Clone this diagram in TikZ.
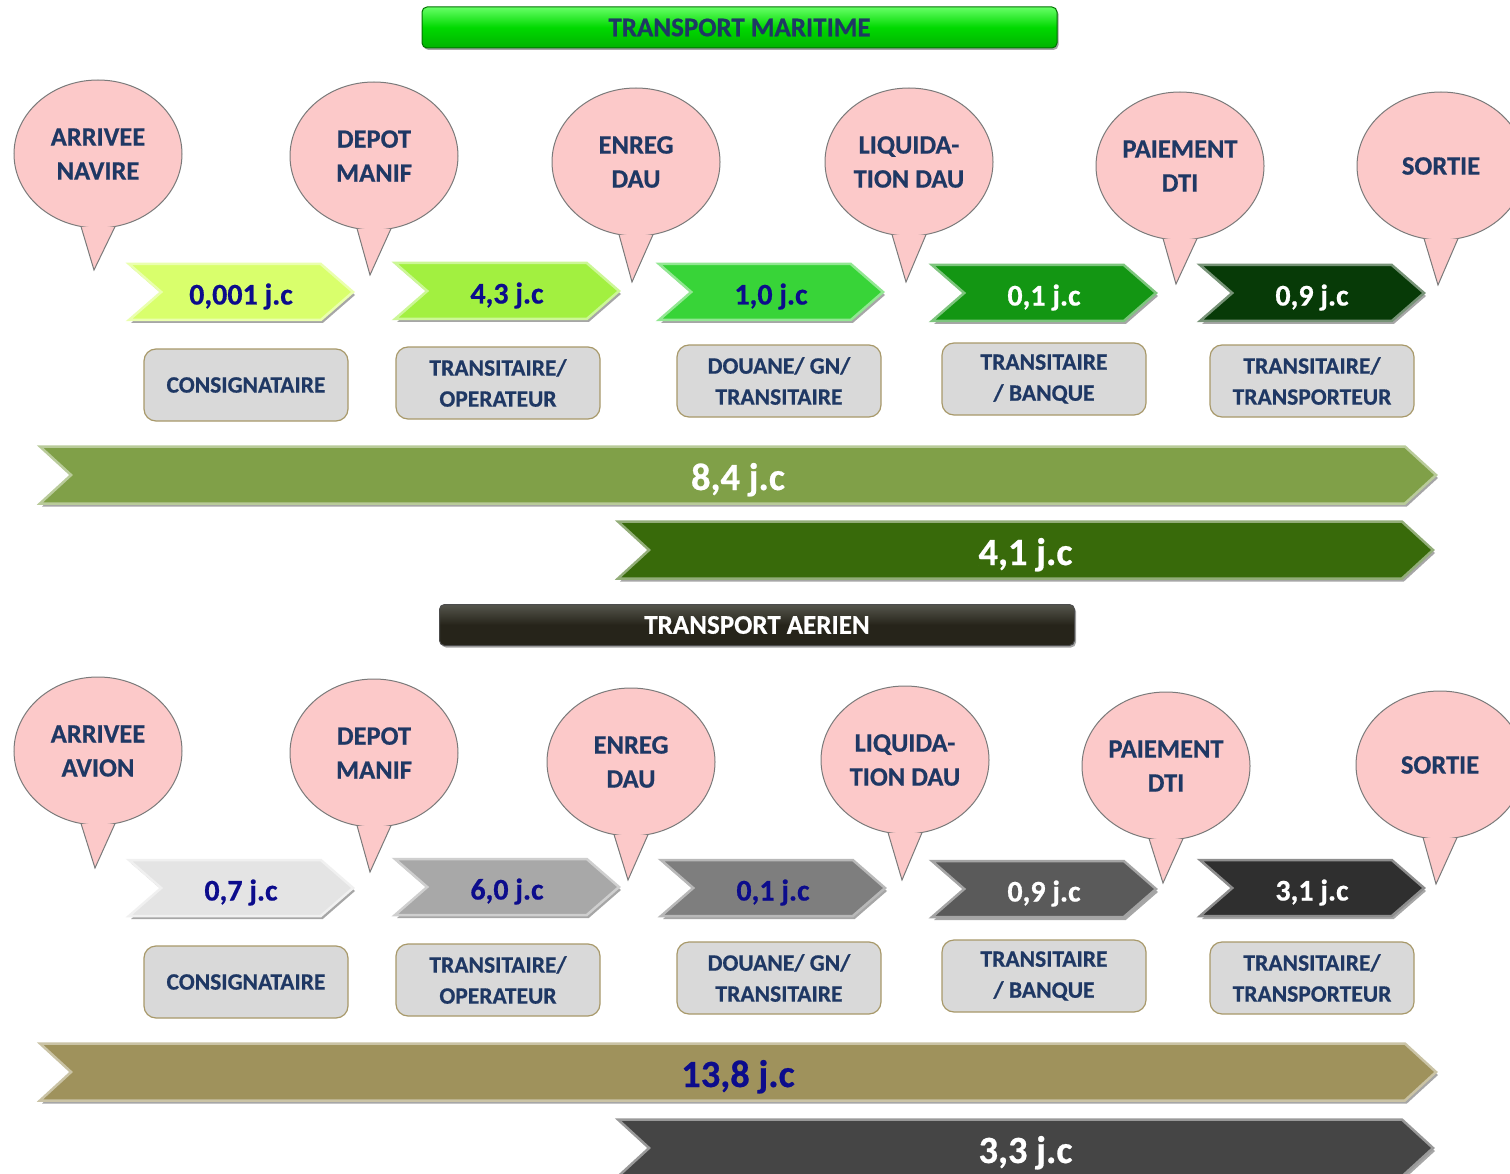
\documentclass[tikz,border=0pt]{standalone}
\usepackage{fontspec}
\setmainfont{Carlito}[BoldFeatures={FakeBold=0.6}]
\usetikzlibrary{shapes.geometric,shapes.symbols,shadows}
\definecolor{navy}{HTML}{1F3864}
\definecolor{jcblue}{HTML}{0C0C8C}
\definecolor{bubblefill}{HTML}{FCC9C9}
\definecolor{bubbleline}{HTML}{7A7A7A}
\definecolor{boxfill}{HTML}{D9D9D9}
\definecolor{boxline}{HTML}{A8996A}
\definecolor{ca}{HTML}{D9FF6C}
\definecolor{cb}{HTML}{A2F040}
\definecolor{cc}{HTML}{38D438}
\definecolor{cd}{HTML}{139613}
\definecolor{ce}{HTML}{073A07}
\definecolor{ga}{HTML}{E4E4E4}
\definecolor{gb}{HTML}{A8A8A8}
\definecolor{gc}{HTML}{7E7E7E}
\definecolor{gd}{HTML}{5A5A5A}
\definecolor{ge}{HTML}{2F2F2F}
\definecolor{ba}{HTML}{80A048}
\definecolor{bb}{HTML}{386A0A}
\definecolor{bc}{HTML}{9F925C}
\definecolor{bd}{HTML}{454545}
\definecolor{aerdark}{HTML}{26241A}
\definecolor{aertop}{HTML}{55554C}
\newcommand\mytail[1]{%
  \fill[bubblefill] (#1.257) -- (#1tip) -- (#1.283) -- cycle;
  \draw[bubbleline, line width=1pt] (#1.257) -- (#1tip) -- (#1.283);}
\begin{document}
\begin{tikzpicture}[x=1pt,y=-1pt,
  bubble/.style={ellipse, draw=bubbleline, fill=bubblefill, line width=1pt,
    minimum width=168pt, minimum height=148pt, inner sep=0pt, align=center,
    text=navy, font=\fontsize{26.5}{34}\selectfont\bfseries},
  chev/.style={signal, signal from=west, signal to=east, signal pointer angle=82,
    minimum width=224pt, minimum height=56pt, inner sep=0pt,
    text height=25pt, text depth=0pt,
    fill=#1, draw=#1!55!white, line width=2.5pt,
    drop shadow={shadow xshift=2pt, shadow yshift=-3pt, opacity=.35, fill=black},
    font=\fontsize{30}{32}\selectfont\bfseries},
  bigchev/.style={signal, signal from=west, signal to=east, signal pointer angle=85,
    minimum height=57pt, inner sep=0pt,
    text height=30pt, text depth=0pt,
    fill=#1, draw=#1!55!white, line width=2.5pt,
    drop shadow={shadow xshift=2pt, shadow yshift=-3pt, opacity=.35, fill=black},
    font=\fontsize{38.5}{40}\selectfont\bfseries},
  role/.style={rounded corners=12pt, draw=boxline, fill=boxfill, line width=1.2pt,
    minimum width=204pt, minimum height=72pt, inner sep=0pt, align=center,
    text=navy, font=\fontsize{23.5}{31}\selectfont\bfseries},
  banner/.style={rounded corners=5pt, minimum width=635pt, minimum height=41pt,
    inner sep=0pt, font=\fontsize{27}{28}\selectfont\bfseries,
    drop shadow={shadow xshift=1.5pt, shadow yshift=-2pt, opacity=.35, fill=black}}
]
\useasboundingbox (0,0) rectangle (1510,1174);
\clip (0,0) rectangle (1510,1174);
\fill[white] (0,0) rectangle (1510,1174);

% ===== MARITIME =====
\node[banner, top color=green!60!white, bottom color=green!70!black, middle color=green!85!black,
      draw=green!45!black, line width=1pt, text=navy] (tm) at (739.5,27.5) {TRANSPORT MARITIME};

\node[bubble] (m1) at (98,154) {ARRIVEE\\NAVIRE};
\node[bubble] (m2) at (374,156) {DEPOT\\MANIF};
\node[bubble] (m3) at (636,162) {ENREG\\DAU};
\node[bubble] (m4) at (909,162) {LIQUIDA-\\TION DAU};
\node[bubble] (m5) at (1180,166) {PAIEMENT\\DTI};
\node[bubble] (m6) at (1441,166) {SORTIE};
\coordinate (m1tip) at (94,270);
\coordinate (m2tip) at (370,275);
\coordinate (m3tip) at (632,282);
\coordinate (m4tip) at (906,282);
\coordinate (m5tip) at (1176,284);
\coordinate (m6tip) at (1438,285);
\mytail{m1}\mytail{m2}\mytail{m3}\mytail{m4}\mytail{m5}\mytail{m6}

\node[chev=ca, text=jcblue] (mc1) at (241,292) {0,001 j.c};
\node[chev=cb, text=jcblue] (mc2) at (507,291) {4,3 j.c};
\node[chev=cc, text=jcblue] (mc3) at (771,292) {1,0 j.c};
\node[chev=cd, text=white] (mc4) at (1044,293) {0,1 j.c};
\node[chev=ce, text=white] (mc5) at (1312,293) {0,9 j.c};

\node[role] (mr1) at (246,385) {CONSIGNATAIRE};
\node[role] (mr2) at (498,383) {TRANSITAIRE/\\OPERATEUR};
\node[role] (mr3) at (779,381) {DOUANE/ GN/\\TRANSITAIRE};
\node[role] (mr4) at (1044,379) {TRANSITAIRE\\/ BANQUE};
\node[role] (mr5) at (1312,381) {TRANSITAIRE/\\TRANSPORTEUR};

\node[bigchev=ba, minimum width=1396pt, text=white] (mt1) at (738,475) {8,4 j.c};
\node[bigchev=bb, minimum width=815pt, text=white] (mt2) at (1025.5,550) {4,1 j.c};

% ===== AERIEN =====
\node[banner, top color=aertop, bottom color=aerdark, middle color=aerdark,
      draw=black!70, line width=1pt, text=white] (ta) at (757,625) {TRANSPORT AERIEN};

\node[bubble] (a1) at (98,751) {ARRIVEE\\AVION};
\node[bubble] (a2) at (374,753) {DEPOT\\MANIF};
\node[bubble] (a3) at (631,762) {ENREG\\DAU};
\node[bubble] (a4) at (905,760) {LIQUIDA-\\TION DAU};
\node[bubble] (a5) at (1166,766) {PAIEMENT\\DTI};
\node[bubble] (a6) at (1440,765) {SORTIE};
\coordinate (a1tip) at (95,868);
\coordinate (a2tip) at (370,872);
\coordinate (a3tip) at (628,880);
\coordinate (a4tip) at (902,880);
\coordinate (a5tip) at (1163,883);
\coordinate (a6tip) at (1436,884);
\mytail{a1}\mytail{a2}\mytail{a3}\mytail{a4}\mytail{a5}\mytail{a6}

\node[chev=ga, text=jcblue] (ac1) at (241,888) {0,7 j.c};
\node[chev=gb, text=jcblue] (ac2) at (507,887) {6,0 j.c};
\node[chev=gc, text=jcblue] (ac3) at (773,888) {0,1 j.c};
\node[chev=gd, text=white] (ac4) at (1044,889) {0,9 j.c};
\node[chev=ge, text=white] (ac5) at (1312,888) {3,1 j.c};

\node[role] (ar1) at (246,982) {CONSIGNATAIRE};
\node[role] (ar2) at (498,980) {TRANSITAIRE/\\OPERATEUR};
\node[role] (ar3) at (779,978) {DOUANE/ GN/\\TRANSITAIRE};
\node[role] (ar4) at (1044,976) {TRANSITAIRE\\/ BANQUE};
\node[role] (ar5) at (1312,978) {TRANSITAIRE/\\TRANSPORTEUR};

\node[bigchev=bc, minimum width=1396pt, text=jcblue] (at1) at (738,1072) {13,8 j.c};
\node[bigchev=bd, minimum width=815pt, text=white] (at2) at (1025.5,1148) {3,3 j.c};
\end{tikzpicture}
\end{document}
